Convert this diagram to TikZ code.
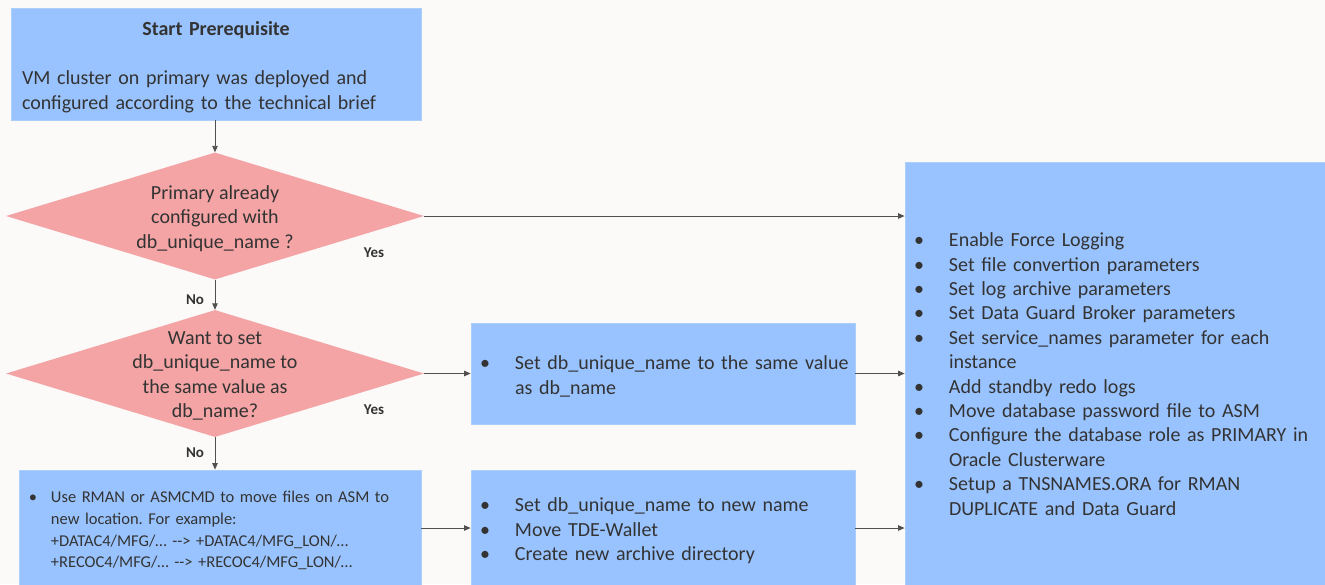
\documentclass[tikz,border=0pt]{standalone}
\usepackage{fontspec}
\setmainfont{Carlito}
\usetikzlibrary{shapes.geometric,arrows.meta}
\definecolor{boxblue}{RGB}{153,195,255}
\definecolor{boxline}{RGB}{172,206,250}
\definecolor{diapink}{RGB}{244,164,164}
\definecolor{ink}{RGB}{51,51,51}
\definecolor{wire}{RGB}{80,80,80}
\definecolor{paper}{RGB}{251,250,249}
\frenchspacing
\newcommand{\bul}[1][20pt]{\makebox[20pt]{\textbullet}\hspace*{#1}}
\begin{document}
\begin{tikzpicture}[x=1pt,y=-1pt,
	box/.style={rectangle,draw=boxline,fill=boxblue,line width=0.8pt,text=ink,inner xsep=4pt,inner ysep=0pt,align=left,font=\fontsize{20}{24.4}\selectfont},
	decision/.style={diamond,fill=diapink,minimum width=418pt,minimum height=127pt,inner sep=0pt},
	qtext/.style={text=ink,align=center,font=\fontsize{20}{24.4}\selectfont},
	link/.style={draw=wire,line width=0.9pt,-{Triangle[length=6.5pt,width=5.5pt]}},
	lbl/.style={text=ink,font=\fontsize{15}{18}\selectfont\bfseries}]
	\fill[paper] (0,0) rectangle (1325,584);
	\useasboundingbox (0,0) rectangle (1325,584);
	% left column
	\node[box,inner xsep=11pt,text width=388pt,text height=20.5pt,minimum height=112pt] (start) at (216,64) {\makebox[388pt]{\bfseries Start Prerequisite}\\[24.4pt]VM cluster on primary was deployed and\\configured according to the technical brief};
	\node[decision] (dia1) at (215,216) {};
	\node[qtext] at ([yshift=-2.5pt]dia1.center) {Primary already\\configured with\\db\_unique\_name ?};
	\node[decision] (dia2) at (215,373.5) {};
	\node[qtext] at ([yshift=-2.5pt]dia2.center) {Want to set\\db\_unique\_name to\\the same value as\\db\_name?};
	\node[box,font=\fontsize{16.5}{21.8}\selectfont,text width=394pt,text height=16.5pt,minimum height=116pt] (move) at (220,528) {\bul[8pt]Use RMAN or ASMCMD to move files on ASM to\\
		\hspace*{28pt}new location. For example:\\
		\hspace*{28pt}+DATAC4/MFG/… -\kern0pt-\kern0pt> +DATAC4/MFG\_LON/…\\
		\hspace*{28pt}+RECOC4/MFG/… -\kern0pt-\kern0pt> +RECOC4/MFG\_LON/…};
	% middle column
	\node[box,text width=376pt,text height=20pt,minimum height=101pt] (setsame) at (663,373.5) {\bul Set db\_unique\_name to the same value\\\hspace*{40pt}as db\_name};
	\node[box,text width=376pt,text height=20pt,minimum height=116pt] (newname) at (663,528) {\bul Set db\_unique\_name to new name\\\bul Move TDE-Wallet\\\bul Create new archive directory};
	% right column
	\node[box,text width=414pt,minimum height=424pt] (prep) at (1116,374) {\bul Enable Force Logging\\
		\bul Set file convertion parameters\\
		\bul Set log archive parameters\\
		\bul Set Data Guard Broker parameters\\
		\bul Set service\_names parameter for each\\
		\hspace*{40pt}instance\\
		\bul Add standby redo logs\\
		\bul Move database password file to ASM\\
		\bul Configure the database role as PRIMARY in\\
		\hspace*{40pt}Oracle Clusterware\\
		\bul Setup a TNSNAMES.ORA for RMAN\\
		\hspace*{40pt}DUPLICATE and Data Guard};
	% connectors
	\draw[link] (dia1.north |- start.south) -- (dia1.north);
	\draw[link] (dia1.south) -- (dia2.north);
	\draw[link] (dia2.south) -- (dia2.south |- move.north);
	\draw[link] (dia1.east) -- (dia1.east -| prep.west);
	\draw[link] (dia2.east) -- (setsame.west);
	\draw[link] (move.east) -- (newname.west);
	\draw[link] (setsame.east) -- (setsame.east -| prep.west);
	\draw[link] (newname.east) -- (newname.east -| prep.west);
	\node[lbl] at (374,253) {Yes};
	\node[lbl] at (195,300) {No};
	\node[lbl] at (374,410) {Yes};
	\node[lbl] at (195,453) {No};
\end{tikzpicture}
\end{document}
